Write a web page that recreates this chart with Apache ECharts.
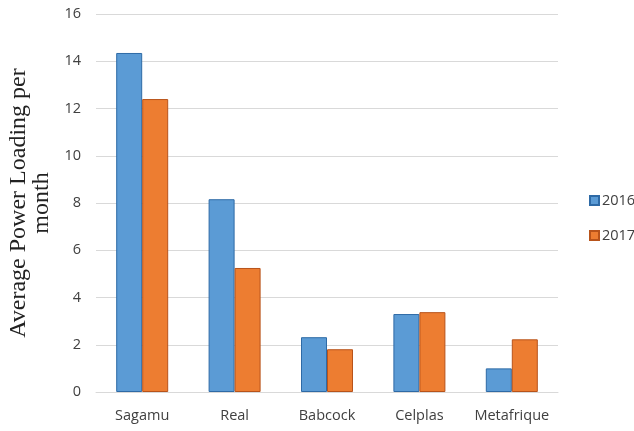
<!DOCTYPE html>
<html>
<head>
<meta charset="utf-8">
<script src="https://cdn.jsdelivr.net/npm/echarts@6/dist/echarts.min.js"></script>
<style>
  html, body { margin: 0; padding: 0; background: #fff; }
  #main { width: 634px; height: 431px; }
</style>
</head>
<body>
<div id="main"></div>
<script>
const categories = ["Sagamu", "Real", "Babcock", "Celplas", "Metafrique"];
const values2016 = [14.35, 8.16, 2.32, 3.3, 1.0];
const values2017 = [12.4, 5.25, 1.81, 3.38, 2.23];
const yTicks = { min: 0, max: 16, interval: 2 };

const chart = echarts.init(document.getElementById("main"), null, { renderer: "canvas" });

const labelFont = "'Open Sans', 'Liberation Sans', sans-serif";

chart.setOption({
  animation: false,
  backgroundColor: "#fff",
  grid: { left: 96, right: 76, top: 14, bottom: 39, containLabel: false, outerBoundsMode: "none" },
  legend: {
    orient: "vertical",
    left: 584,
    top: 188,
    itemWidth: 9,
    itemHeight: 9,
    itemGap: 20,
    icon: "rect",
    textStyle: { fontFamily: labelFont, fontSize: 14.5, color: "#404040", padding: [0, 0, 0, -2] },
    data: ["2016", "2017"]
  },
  xAxis: {
    type: "category",
    data: categories,
    axisTick: { show: false },
    axisLine: { lineStyle: { color: "#d9d9d9", width: 1 } },
    axisLabel: { interval: 0, fontFamily: labelFont, fontSize: 14.5, color: "#404040", margin: 16 }
  },
  yAxis: {
    type: "value",
    min: yTicks.min,
    max: yTicks.max,
    interval: yTicks.interval,
    name: "Average Power Loading per\nmonth",
    nameLocation: "middle",
    nameGap: 37,
    nameTextStyle: {
      fontFamily: "'Liberation Serif', 'DejaVu Serif', serif",
      fontSize: 24,
      lineHeight: 23,
      color: "#222"
    },
    axisLine: { show: false },
    axisTick: { show: false },
    axisLabel: { fontFamily: labelFont, fontSize: 14.5, color: "#404040", margin: 15 },
    splitLine: { lineStyle: { color: "#d9d9d9", width: 1 } }
  },
  series: [
    {
      name: "2016",
      type: "bar",
      data: values2016,
      barWidth: 26,
      barGap: "0%",
      itemStyle: { color: "#5b9bd5", borderColor: "#2e6aa6", borderWidth: 1 }
    },
    {
      name: "2017",
      type: "bar",
      data: values2017,
      barWidth: 26,
      itemStyle: { color: "#ed7d31", borderColor: "#b8531a", borderWidth: 1 }
    }
  ]
});
</script>
</body>
</html>
